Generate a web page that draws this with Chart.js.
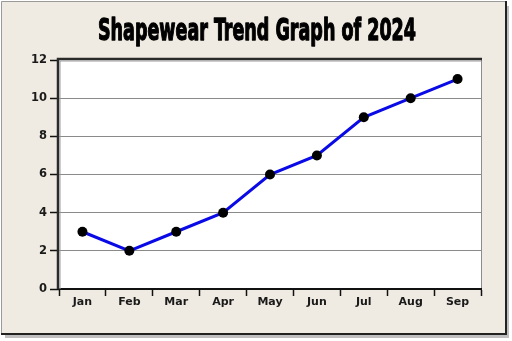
<!DOCTYPE html>
<html>
<head>
<meta charset="utf-8">
<script src="https://cdn.jsdelivr.net/npm/chart.js@4/dist/chart.umd.min.js"></script>
<style>
  html, body { margin: 0; padding: 0; background: #ffffff; }
  #wrap { width: 512px; height: 341px; position: relative; }
</style>
</head>
<body>
<div id="wrap"><canvas id="trendChart" width="512" height="341"></canvas></div>
<script>
// Monthly values
const months = ['Jan', 'Feb', 'Mar', 'Apr', 'May', 'Jun', 'Jul', 'Aug', 'Sep'];
const trendValues = [3, 2, 3, 4, 6, 7, 9, 10, 11];
const yTicks = [0, 2, 4, 6, 8, 10, 12];
const chartTitle = 'Shapewear Trend Graph of 2024';

// Paper frame, plot background and title
const framePlugin = {
    id: 'frame',
    beforeDraw(chart) {
        const ctx = chart.ctx;
        const a = chart.chartArea;
        ctx.save();
        ctx.fillStyle = '#ffffff';
        ctx.fillRect(0, 0, chart.width, chart.height);

        // drop shadow
        ctx.fillStyle = 'rgba(0,0,0,0.25)';
        ctx.fillRect(5, 6, 504, 332);
        ctx.fillStyle = '#efebe2';
        ctx.fillRect(1, 1, 505, 333);
        ctx.strokeStyle = '#9a9a9a';
        ctx.lineWidth = 1;
        ctx.beginPath();
        ctx.moveTo(1.5, 334);
        ctx.lineTo(1.5, 1.5);
        ctx.lineTo(506, 1.5);
        ctx.stroke();
        ctx.strokeStyle = '#222222';
        ctx.lineWidth = 2;
        ctx.beginPath();
        ctx.moveTo(506, 1);
        ctx.lineTo(506, 334);
        ctx.lineTo(1, 334);
        ctx.stroke();

        // plot area
        ctx.fillStyle = '#ffffff';
        ctx.fillRect(a.left, a.top, a.right - a.left, a.bottom - a.top);
        ctx.strokeStyle = '#8c8c8c';
        ctx.lineWidth = 1;
        ctx.beginPath();
        ctx.moveTo(a.right + 0.5, a.top);
        ctx.lineTo(a.right + 0.5, a.bottom);
        ctx.stroke();

        // title, squeezed to a condensed width and thickened
        ctx.fillStyle = '#000000';
        ctx.strokeStyle = '#000000';
        ctx.lineWidth = 1.3;
        ctx.lineJoin = 'round';
        ctx.font = 'bold 31px "Liberation Sans Narrow", "DejaVu Sans Condensed", sans-serif';
        ctx.textBaseline = 'alphabetic';
        const w = ctx.measureText(chartTitle).width;
        const target = 318;
        ctx.translate(257, 40);
        ctx.scale(target / w, 1);
        ctx.textAlign = 'center';
        ctx.fillText(chartTitle, 0, 0);
        ctx.strokeText(chartTitle, 0, 0);
        ctx.restore();
    },
    afterDatasetsDraw(chart) {
        // inset border on the top and left of the plot
        const ctx = chart.ctx;
        const a = chart.chartArea;
        ctx.save();
        ctx.strokeStyle = '#2a2a2a';
        ctx.lineWidth = 2.5;
        ctx.beginPath();
        ctx.moveTo(a.left - 1, a.bottom);
        ctx.lineTo(a.left - 1, a.top - 1);
        ctx.lineTo(a.right + 1, a.top - 1);
        ctx.stroke();
        ctx.strokeStyle = '#9a9a9a';
        ctx.lineWidth = 1;
        ctx.beginPath();
        ctx.moveTo(a.left + 1, a.bottom);
        ctx.lineTo(a.left + 1, a.top + 1);
        ctx.lineTo(a.right, a.top + 1);
        ctx.stroke();
        ctx.restore();
    }
};

const ctx = document.getElementById('trendChart').getContext('2d');
new Chart(ctx, {
    type: 'line',
    data: {
        labels: months,
        datasets: [{
            data: trendValues,
            borderColor: '#0a0ae6',
            borderWidth: 3,
            pointRadius: 5,
            pointBackgroundColor: '#000000',
            pointBorderColor: '#000000',
            pointBorderWidth: 0,
            tension: 0
        }]
    },
    options: {
        responsive: false,
        animation: false,
        layout: { padding: { top: 60, right: 31, left: 0, bottom: 0 } },
        plugins: {
            legend: { display: false },
            tooltip: { enabled: false }
        },
        scales: {
            x: {
                offset: true,
                afterFit: scale => { scale.height = 52; },
                grid: {
                    offset: true,
                    drawOnChartArea: false,
                    tickLength: 7,
                    tickWidth: 1.5,
                    tickColor: '#111111'
                },
                border: { color: '#111111', width: 2 },
                ticks: {
                    color: '#1a1a1a',
                    padding: 0,
                    font: { family: '"DejaVu Sans", sans-serif', size: 11, weight: 'bold' }
                }
            },
            y: {
                min: 0,
                max: 12,
                afterFit: scale => { scale.width = 59; },
                afterBuildTicks: scale => { scale.ticks = yTicks.map(v => ({ value: v })); },
                grid: {
                    color: c => (c.tick.value === 0 || c.tick.value === 12) ? 'rgba(0,0,0,0)' : '#8a8a8a',
                    lineWidth: 1,
                    tickLength: 9,
                    tickWidth: 1.5,
                    tickColor: '#111111'
                },
                border: { display: false },
                ticks: {
                    color: '#1a1a1a',
                    padding: 3,
                    font: { family: '"DejaVu Sans", sans-serif', size: 11.5, weight: 'bold' }
                }
            }
        }
    },
    plugins: [framePlugin]
});
</script>
</body>
</html>
